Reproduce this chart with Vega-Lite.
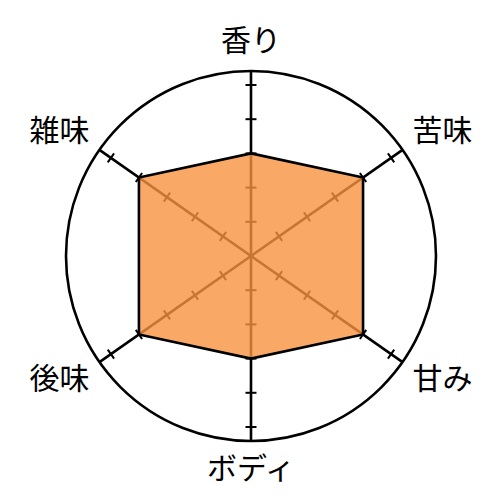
{
  "$schema": "https://vega.github.io/schema/vega-lite/v6.json",
  "width": 500,
  "height": 500,
  "padding": 0,
  "autosize": {"type": "fit", "contains": "padding"},
  "config": {"view": {"stroke": null}},
  "data": {
    "values": [
      {"axis": "香り", "value": 3, "ticks": [1, 2, 3, 4, 5]},
      {"axis": "苦味", "value": 4, "ticks": [1, 2, 3, 4, 5]},
      {"axis": "甘み", "value": 4, "ticks": [1, 2, 3, 4, 5]},
      {"axis": "ボディ", "value": 3, "ticks": [1, 2, 3, 4, 5]},
      {"axis": "後味", "value": 4, "ticks": [1, 2, 3, 4, 5]},
      {"axis": "雑味", "value": 4, "ticks": [1, 2, 3, 4, 5]}
    ]
  },
  "transform": [
    {"calculate": "indexof(['香り','苦味','甘み','ボディ','後味','雑味'], datum.axis)", "as": "idx"},
    {"calculate": "[0, 55, 125, 180, 235, 305][datum.idx]", "as": "deg"},
    {"calculate": "datum.deg * PI / 180", "as": "rad"}
  ],
  "encoding": {
    "x": {"field": "px", "type": "quantitative", "axis": null, "scale": {"domain": [-7.339, 7.281], "nice": false, "zero": false}},
    "y": {"field": "py", "type": "quantitative", "axis": null, "scale": {"domain": [-7.135, 7.485], "nice": false, "zero": false}}
  },
  "layer": [
    {
      "transform": [
        {"filter": "datum.idx === 0"},
        {"calculate": "0", "as": "px"},
        {"calculate": "0", "as": "py"}
      ],
      "mark": {"type": "point", "shape": "circle", "filled": false, "stroke": "black", "strokeWidth": 2.6, "opacity": 1, "size": 136900}
    },
    {
      "transform": [
        {"calculate": "5.41 * sin(datum.rad)", "as": "px"},
        {"calculate": "5.41 * cos(datum.rad)", "as": "py"}
      ],
      "mark": {"type": "rule", "color": "black", "strokeWidth": 2.6},
      "encoding": {
        "x2": {"datum": 0},
        "y2": {"datum": 0}
      }
    },
    {
      "transform": [
        {"flatten": ["ticks"], "as": ["t"]},
        {"calculate": "datum.t * sin(datum.rad)", "as": "px"},
        {"calculate": "datum.t * cos(datum.rad)", "as": "py"}
      ],
      "mark": {"type": "point", "shape": "stroke", "filled": false, "stroke": "black", "strokeWidth": 2, "opacity": 1},
      "encoding": {
        "size": {"value": 121},
        "angle": {"field": "deg", "type": "quantitative", "scale": null}
      }
    },
    {
      "transform": [
        {"calculate": "datum.value * sin(datum.rad)", "as": "px"},
        {"calculate": "datum.value * cos(datum.rad)", "as": "py"}
      ],
      "mark": {"type": "line", "interpolate": "linear-closed", "fill": "#F7933E", "fillOpacity": 0.8, "stroke": "black", "strokeWidth": 2.6, "strokeJoin": "miter"},
      "encoding": {
        "order": {"field": "idx", "type": "quantitative"}
      }
    },
    {
      "transform": [
        {"calculate": "[0, 57, 123, 180, 237, 303][datum.idx] * PI / 180", "as": "lrad"},
        {"calculate": "datum.deg % 180 === 0 ? 6.26 : 6.68", "as": "rl"},
        {"calculate": "datum.rl * sin(datum.lrad)", "as": "px"},
        {"calculate": "datum.rl * cos(datum.lrad)", "as": "py"}
      ],
      "mark": {"type": "text", "font": "Noto Sans CJK JP", "fontSize": 30, "align": "center", "baseline": "middle", "color": "black"},
      "encoding": {
        "text": {"field": "axis", "type": "nominal"}
      }
    }
  ]
}
